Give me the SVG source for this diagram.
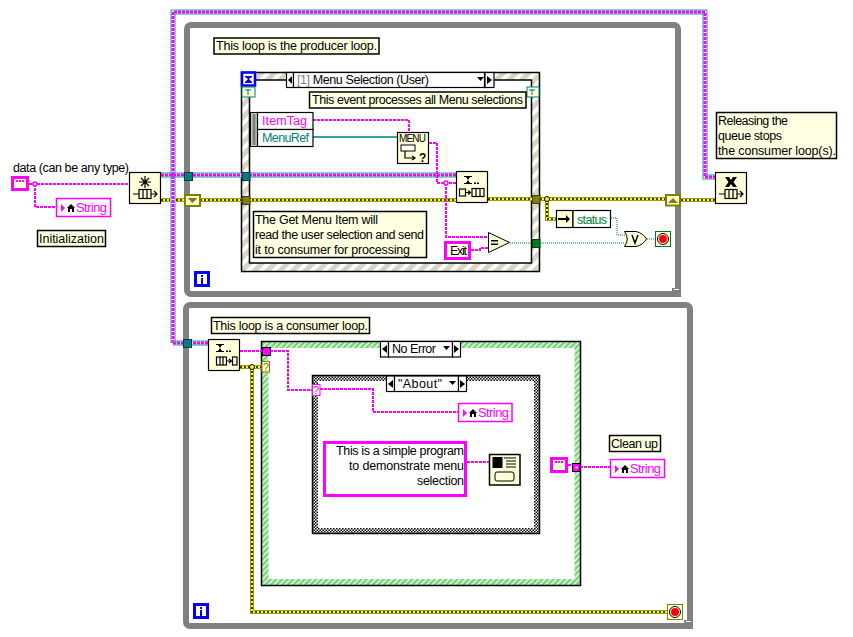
<svg xmlns="http://www.w3.org/2000/svg" xmlns:xlink="http://www.w3.org/1999/xlink" width="853" height="637" viewBox="0 0 853 637">
<style>
text{font-family:"Liberation Sans",Arial,sans-serif;font-size:12.500px;fill:#000}
.frame{fill:none;stroke:#808080;stroke-width:6}
.comment{fill:#ffffe1;stroke:#000;stroke-width:1.5}
.node{fill:#ffffd9;stroke:#000;stroke-width:1.2}
.cell{fill:#fff;stroke:#000;stroke-width:1.2}
.str{fill:#ffffff;stroke:#ff00ff;stroke-width:1.5}
.strc{fill:#ffffd9;stroke:#ff00ff;stroke-width:3}
.w{fill:none}
.ws{stroke:#ff00ff;stroke-width:2;stroke-dasharray:3 1}
.wg{stroke:#007a1f;stroke-width:1;stroke-dasharray:1 1}
.wt{stroke:#007f7f;stroke-width:1.3}
.q1{stroke:#00a8a8;stroke-width:5}
.q2{stroke:#fff;stroke-width:3}
.q3{stroke:#ff00ff;stroke-width:3;stroke-dasharray:3 1}
.e1{stroke:#808000;stroke-width:4}
.e2{stroke:#ffff00;stroke-width:2.4}
.e3{stroke:#000;stroke-width:1.6;stroke-dasharray:2 2}
.mag{fill:#ff00ff}
.ic{fill:none;stroke:#000;stroke-width:1.2}
.tq{fill:#007f7f;stroke:#00403f;stroke-width:1}
.te{fill:#808000;stroke:#404000;stroke-width:1}
.blk{fill:#000}
.strtxt{fill:#ff00ff;font-size:13px}
</style>
<defs>
<pattern id="hatchEvent" width="9" height="9" patternUnits="userSpaceOnUse" patternTransform="rotate(-45)">
<rect width="9" height="9" fill="#ffffff"/><rect width="9" height="5" fill="#d8d5c4"/>
</pattern>
<pattern id="hatchCase" width="4" height="4" patternUnits="userSpaceOnUse" patternTransform="rotate(-45)">
<rect width="4" height="4" fill="#d8f4d8"/><rect width="4" height="2.200" fill="#78d078"/>
</pattern>
<pattern id="checker" width="3" height="3" patternUnits="userSpaceOnUse">
<rect width="3" height="3" fill="#fff"/><rect width="1.500" height="1.500" fill="#000"/><rect x="1.500" y="1.500" width="1.500" height="1.500" fill="#000"/>
</pattern>
<g id="queue"><path class="ic" d="M-12 0H-6M6 0H12M9 -3L12 0L9 3"/><rect class="ic" x="-6" y="-4.500" width="12" height="9"/><path class="ic" d="M-2 -4.500V4.500M2 -4.500V4.500"/></g>
<g id="hourglass"><path class="blk" d="M-4 -4H4V-3H2L0 0L2 3H4V4H-4V3H-2L0 0L-2 -3H-4Z"/><rect class="blk" x="6" y="2.500" width="2" height="1.500"/><rect class="blk" x="9" y="2.500" width="2" height="1.500"/></g>
<g id="stop"><circle r="5.500" fill="#fff" stroke="#000"/><circle r="4" fill="#ff0000"/></g>
<g id="home"><path class="blk" d="M0 -4L4 0H3V4H1V1H-1V4H-3V0H-4Z"/></g>
</defs>

<g id="producer-loop">
<rect class="frame" x="187" y="25" width="491" height="269" rx="4"/>
<path d="M672 288h9v9h-9z" fill="#808080"/><path d="M674 289h5v1h-5z" fill="#fff"/>
</g>
<g id="consumer-loop">
<rect class="frame" x="186" y="305" width="504" height="321" rx="4"/>
<path d="M684 620h9v9h-9z" fill="#808080"/><path d="M686 621h5v1h-5z" fill="#fff"/>
</g>

<g id="event-structure">
<rect x="241.500" y="72.500" width="298" height="199" fill="url(#hatchEvent)" stroke="#000" stroke-width="1.500"/>
<rect x="249.500" y="80" width="282" height="183" fill="#fff" stroke="#000" stroke-width="1.500"/>
</g>
<g id="case-outer">
<rect x="261.500" y="341.500" width="319" height="244" fill="url(#hatchCase)" stroke="#000" stroke-width="1.500"/>
<rect x="268.500" y="348" width="306" height="231" fill="#fff"/>
</g>
<g id="case-inner">
<rect x="312.500" y="375.500" width="227" height="158" fill="url(#checker)" stroke="#000" stroke-width="1.500"/>
<rect x="318" y="381" width="216" height="147" fill="#fff"/>
</g>

<g id="connectors">
<!-- queue reference -->
<path id="queue-wire-top" class="w q1" d="M173 343V12H705V177H716"/>
<path class="w q2" d="M173 343V12H705V177H716"/>
<path class="w q3" d="M173 343V12H705V177H716"/>
<path class="w q1" d="M161 175H456"/><path class="w q2" d="M161 175H456"/><path class="w q3" d="M161 175H456"/>
<path class="w q1" d="M173 343H208"/><path class="w q2" d="M173 343H208"/><path class="w q3" d="M173 343H208"/>
<!-- error cluster -->
<g id="error-wires">
<path class="w e1" d="M161 200H170M176 200H456M488 199H665M547 199V219H556M681 200H715M240 367H262M252 367V612H667"/>
<path class="w e2" d="M161 200H170M176 200H456M488 199H665M547 199V219H556M681 200H715M240 367H262M252 367V612H667"/>
<path class="w e3" d="M161 200H170M176 200H456M488 199H665M547 199V219H556M681 200H715M240 367H262M252 367V612H667"/>
</g>
<!-- strings -->
<path class="w ws" d="M29 184H129M35 184V207H56"/>
<path class="w ws" d="M313 120H409V132M429 143H437V183H456M446 183V237H488M471 250H480V248H488"/>
<path class="w ws" d="M240 351H262M270 351H288V390H312M320 389H373V412H458"/>
<path class="w ws" d="M467 462H489M568 465H572M580 467H610"/>
<path class="w wt" d="M313 137H397"/>
<!-- booleans -->
<path class="w wg" d="M510 243H532M541 243H625M611 218H617V235H625M647 239H655"/>
<circle cx="35" cy="184" r="2" fill="#fff" stroke="#ff00ff" stroke-width="1.500"/>
<circle cx="173" cy="175" r="2" fill="#ff00ff"/>
<circle cx="446" cy="183" r="2" fill="#fff" stroke="#ff00ff" stroke-width="1.500"/>
<circle cx="547" cy="199" r="2.500" fill="#ffff00" stroke="#000"/>
<circle cx="252" cy="367" r="2.500" fill="#ffff00" stroke="#000"/>
</g>

<g id="data-control">
<text x="13" y="172" textLength="116">data (can be any type)</text>
<rect class="strc" x="12.500" y="177.500" width="15" height="12"/>
<path class="mag" d="M16 180h2v2h-2zM19 180h2v2h-2zM22 180h2v2h-2z"/>
</g>
<g id="string-indicator-top">
<rect class="str" x="56.500" y="198.500" width="54" height="18"/>
<path class="mag" d="M61 204L65 208L61 212Z"/>
<use xlink:href="#home" x="71" y="208"/>
<text class="strtxt" x="76" y="212" textLength="31">String</text>
</g>
<g id="label-init">
<rect class="comment" x="37.500" y="230.500" width="68" height="16"/>
<text x="39" y="243" textLength="65">Initialization</text>
</g>
<g id="obtain-queue">
<rect class="node" x="129.500" y="172.500" width="31" height="31"/>
<path class="ic" d="M145 176V188M139 182H151M141 178L149 186M149 178L141 186"/>
<use xlink:href="#queue" x="145" y="194"/>
</g>
<g id="tunnel-queue-loop"><rect class="tq" x="184.500" y="172.500" width="8" height="8"/></g>
<g id="shift-left">
<rect x="185" y="195" width="15" height="11" fill="#ffffd9" stroke="#808000" stroke-width="2"/>
<path d="M187.500 198H197.500L192.500 203Z" fill="#808000"/>
</g>
<g id="iteration-top">
<rect x="195.500" y="272.500" width="13" height="13" fill="#ffffd9" stroke="#0000ff" stroke-width="3"/>
<path d="M201 275h2v2h-2zM201 278h2v6h-2z" fill="#0000ff"/>
</g>
<g id="label-producer">
<rect class="comment" x="214" y="38" width="165" height="16"/>
<text x="216" y="50" textLength="161">This loop is the producer loop.</text>
</g>

<g id="event-timeout">
<rect x="242" y="72.500" width="13" height="13" fill="#ffffd9" stroke="#0000ff" stroke-width="2.500"/>
<path d="M245 76H252V77L249 79L252 82V83H245V82L248 79L245 77Z" fill="#0000ff"/>
</g>
<g id="event-term-left">
<rect x="242" y="87" width="13" height="10" fill="#ffffd9" stroke="#008080"/>
<path d="M248 89v6M245 90h6" stroke="#008080"/>
</g>
<g id="event-term-right">
<rect x="527" y="87" width="12" height="10" fill="#ffffd9" stroke="#008080"/>
<path d="M532 89v6M529 90h6" stroke="#008080"/>
</g>
<g id="event-selector">
<rect class="cell" x="286.500" y="72.500" width="7" height="15"/><path class="blk" d="M292 76V84L288 80Z"/>
<rect class="cell" x="293.500" y="72.500" width="191" height="15"/>
<rect class="cell" x="485" y="72.500" width="9" height="15"/><path class="blk" d="M487 76V84L492 80Z"/>
<path class="blk" d="M477 77H484L480.500 81Z"/>
<text x="297" y="84" textLength="132"><tspan style="fill:#808080">[1]</tspan> Menu Selection (User)</text>
</g>
<g id="label-event">
<rect class="comment" x="309.500" y="92" width="216.500" height="16"/>
<text x="312" y="104" textLength="211">This event processes all Menu selections</text>
</g>
<g id="event-data">
<rect x="250.500" y="112.500" width="7" height="34" fill="#c8c8b0" stroke="#000"/>
<rect x="252.500" y="114" width="3" height="31" fill="#808080"/>
<rect class="cell" x="257.500" y="112.500" width="55.500" height="17"/>
<rect class="cell" x="257.500" y="129.500" width="55.500" height="17"/>
<text x="262" y="125" style="fill:#ff00ff" textLength="45">ItemTag</text>
<text x="262" y="142" style="fill:#007f7f" textLength="47">MenuRef</text>
</g>
<g id="get-menu-item">
<rect class="node" x="397.500" y="132.500" width="31" height="31"/>
<text x="399" y="142" style="font-size:10px" textLength="27">MENU</text>
<rect x="401" y="145" width="14" height="6" fill="#fff" stroke="#000"/>
<path class="ic" d="M405 151V158H414M412 156L415 158L412 160"/>
<text x="419" y="162" style="font-size:12px;font-weight:bold">?</text>
</g>
<g id="enqueue">
<rect class="node" x="456.500" y="171.500" width="31" height="31"/>
<use xlink:href="#hourglass" x="468" y="180"/>
<rect class="ic" x="459.500" y="189" width="6" height="7" fill="#fff"/>
<path class="ic" d="M466 192.500H470M468 190.500L470.500 192.500L468 194.500"/>
<rect class="ic" x="472" y="188.500" width="12" height="8"/><path class="ic" d="M476 188.500V196.500M480 188.500V196.500"/>
</g>
<g id="tunnels-event">
<rect class="tq" x="242.500" y="172.500" width="7.500" height="8"/>
<rect class="te" x="242.500" y="196.500" width="7.500" height="8"/>
<rect class="te" x="532.500" y="195.500" width="7.500" height="8"/>
<rect x="532.500" y="239.500" width="7.500" height="8" fill="#007a1f" stroke="#004010"/>
</g>
<g id="label-get-menu">
<rect class="comment" x="253.500" y="211.500" width="173" height="46"/>
<text x="255" y="224" textLength="123">The Get Menu Item will</text>
<text x="255" y="239" textLength="169">read the user selection and send</text>
<text x="255" y="254" textLength="155">it to consumer for processing</text>
</g>
<g id="exit-constant">
<rect x="445.500" y="242.500" width="24" height="16" fill="#ffffe1" stroke="#ff00ff" stroke-width="3"/>
<text x="450" y="255" textLength="17">Exit</text>
</g>
<g id="equal">
<path d="M488.500 232.500V252.500L509.500 242.500Z" fill="#ffffd9" stroke="#000"/>
<path class="blk" d="M491 240h7v1.500h-7zM491 243.500h7v1.500h-7z"/>
</g>

<g id="shift-right">
<rect x="666" y="195" width="14" height="10.500" fill="#ffffd9" stroke="#808000" stroke-width="2"/>
<path d="M668 203H678L673 198Z" fill="#808000"/>
</g>
<g id="status-unbundle">
<rect class="node" x="556.500" y="210.500" width="16.500" height="17"/>
<path class="blk" d="M558 218H566V215L570 219L566 223V220H558Z"/>
<rect class="cell" x="573" y="210.500" width="37.500" height="17"/>
<text x="577" y="224" style="fill:#007f3f" textLength="30">status</text>
</g>
<g id="or-gate">
<path d="M624.500 231.500H636Q643 233 646.500 239Q643 245 636 246.500H624.500Q630 239 624.500 231.500Z" fill="#ffffd9" stroke="#000"/>
<path d="M632 235L635 243L638 235" fill="none" stroke="#000" stroke-width="1.500"/>
</g>
<g id="stop-top">
<rect x="655.500" y="231.500" width="15" height="15" fill="#ffffd9" stroke="#007a1f"/>
<use xlink:href="#stop" x="663" y="239"/>
</g>
<g id="release-queue">
<rect class="node" x="715.500" y="172.500" width="31" height="31"/>
<path d="M725 177H729L731 180L733 177H737L733.500 182L737 187H733L731 184L729 187H725L728.500 182Z" fill="#000"/>
<use xlink:href="#queue" x="731" y="194"/>
</g>
<g id="label-release">
<rect class="comment" x="716.500" y="112.500" width="120" height="46"/>
<text x="718" y="125" textLength="70">Releasing the</text>
<text x="718" y="140" textLength="64">queue stops</text>
<text x="718" y="155" textLength="118">the consumer loop(s).</text>
</g>

<g id="label-consumer">
<rect class="comment" x="211.500" y="317.500" width="158" height="16"/>
<text x="213" y="330" textLength="155">This loop is a consumer loop.</text>
</g>
<g id="tunnel-queue-consumer"><rect class="tq" x="183.500" y="339.500" width="8" height="8"/></g>
<g id="dequeue">
<rect class="node" x="208.500" y="339.500" width="31" height="31"/>
<use xlink:href="#hourglass" x="220" y="348"/>
<rect class="ic" x="216.500" y="357" width="10" height="8"/>
<path class="ic" d="M220 357V365M223 357V365"/>
<path class="ic" d="M226.500 361H231M229 359L231.500 361L229 363"/>
<rect class="ic" x="232.500" y="357" width="4.500" height="8"/>
</g>
<g id="case-outer-selector">
<rect class="cell" x="380.500" y="341.500" width="8" height="15.500"/><path class="blk" d="M387 345V353L382 349Z"/>
<rect class="cell" x="388.500" y="341.500" width="64" height="15.500"/>
<rect class="cell" x="452.500" y="341.500" width="8" height="15.500"/><path class="blk" d="M454 345V353L459 349Z"/>
<path class="blk" d="M443 346H450L446.500 350Z"/>
<text x="392" y="353" textLength="44">No Error</text>
</g>
<g id="case-outer-terminals">
<rect x="262.500" y="347.500" width="8" height="8" fill="#ff00ff" stroke="#000"/>
<rect x="262" y="361.500" width="7.500" height="10.500" fill="#ffffd9" stroke="#808000"/>
<text x="263" y="371" style="fill:#808000;font-size:11px">?</text>
</g>
<g id="case-inner-selector">
<rect class="cell" x="386.500" y="376" width="8" height="15.500"/><path class="blk" d="M393 380V388L388 384Z"/>
<rect class="cell" x="394.500" y="376" width="64" height="15.500"/>
<rect class="cell" x="458.500" y="376" width="8" height="15.500"/><path class="blk" d="M460 380V388L465 384Z"/>
<path class="blk" d="M449 381H456L452.500 385Z"/>
<text x="398" y="388" textLength="44">"About"</text>
</g>
<g id="case-inner-terminal">
<rect x="312.500" y="384.500" width="7.500" height="11" fill="#ffffd9" stroke="#ff00ff"/>
<text x="313" y="394" style="fill:#ff00ff;font-size:11px">?</text>
</g>
<g id="string-indicator-about">
<rect class="str" x="458.500" y="403.500" width="53.500" height="18"/>
<path class="mag" d="M463 409L467 413L463 417Z"/>
<use xlink:href="#home" x="473" y="413"/>
<text class="strtxt" x="478" y="417" textLength="31">String</text>
</g>
<g id="message-constant">
<rect x="324.500" y="442.500" width="141" height="53" fill="#fff" stroke="#ff00ff" stroke-width="3"/>
<text x="336" y="455" textLength="128">This is a simple program</text>
<text x="349" y="470" textLength="115">to demonstrate menu</text>
<text x="417" y="485" textLength="47">selection</text>
</g>
<g id="dialog-node">
<rect x="489.500" y="454.500" width="30.500" height="30.500" fill="#ffffd9" stroke="#000" stroke-width="1.500"/>
<rect x="492.500" y="457" width="10" height="11" fill="#000"/>
<path d="M504 458h12M506 461h10M506 464h10M506 467h10" stroke="#000"/>
<rect x="495" y="472" width="19" height="9" rx="2" fill="#ffffd9" stroke="#000"/>
</g>
<g id="cleanup-constant">
<rect class="strc" x="551.500" y="458.500" width="15" height="13"/>
<path class="mag" d="M555 461h2v2h-2zM558 461h2v2h-2zM561 461h2v2h-2z"/>
</g>
<g id="cleanup-tunnel">
<rect x="572.500" y="463.500" width="7.500" height="8" fill="#ff00ff" stroke="#000"/>
<rect x="575.500" y="466.500" width="2" height="2" fill="#fff"/>
</g>
<g id="label-cleanup">
<rect class="comment" x="609.500" y="435.500" width="51" height="16"/>
<text x="611" y="448" textLength="47">Clean up</text>
</g>
<g id="string-indicator-cleanup">
<rect class="str" x="610.500" y="459.500" width="54" height="18"/>
<path class="mag" d="M615 465L619 469L615 473Z"/>
<use xlink:href="#home" x="625" y="469"/>
<text class="strtxt" x="630" y="473" textLength="31">String</text>
</g>
<g id="stop-consumer">
<rect x="667.500" y="604.500" width="15" height="15" fill="#ffffd9" stroke="#808000"/>
<use xlink:href="#stop" x="675" y="612"/>
</g>
<g id="iteration-consumer">
<rect x="194.500" y="604.500" width="13" height="13" fill="#ffffd9" stroke="#0000ff" stroke-width="3"/>
<path d="M200 607h2v2h-2zM200 610h2v6h-2z" fill="#0000ff"/>
</g>
</svg>
